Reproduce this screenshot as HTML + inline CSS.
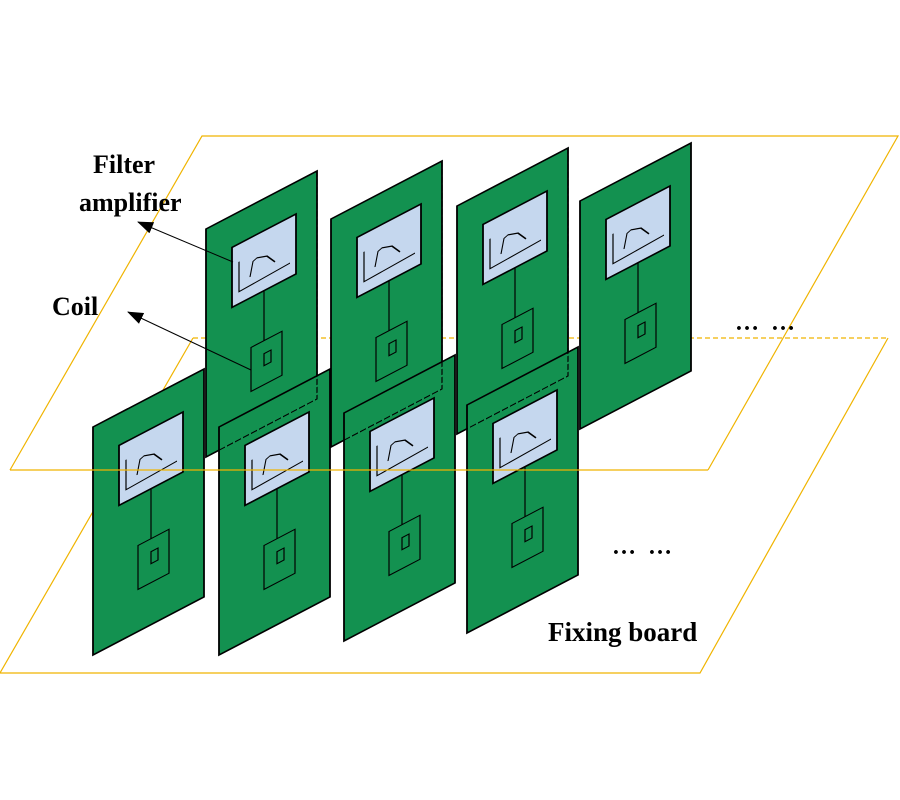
<!DOCTYPE html>
<html><head><meta charset="utf-8"><style>
html,body{margin:0;padding:0;background:#fff;}
svg{display:block;}
text{font-family:"Liberation Serif",serif;font-weight:bold;fill:#000;}
</style></head><body>
<svg width="900" height="800" viewBox="0 0 900 800" xmlns="http://www.w3.org/2000/svg">
<defs>
<g id="content">
  <polygon points="0,0 111,0 111,228 0,228" fill="#139150" stroke="#000" stroke-width="1.8"/>
  <rect x="26" y="32" width="64" height="60" fill="#c5d7ee" stroke="#000" stroke-width="1.8"/>
  <polyline points="33,50 33,80 84,78" fill="none" stroke="#000" stroke-width="1.2"/>
  <polyline points="44,71 47,57 51,55.5 61,59 69,69" fill="none" stroke="#000" stroke-width="1.2"/>
  <line x1="58" y1="92" x2="58" y2="142" stroke="#000" stroke-width="1.2"/>
  <rect x="45" y="142" width="31" height="44" fill="none" stroke="#000" stroke-width="1.2"/>
  <rect x="58" y="155" width="7" height="12" fill="none" stroke="#000" stroke-width="1.2"/>
</g>
<marker id="ah" markerWidth="16" markerHeight="12" refX="15" refY="6" orient="auto" markerUnits="userSpaceOnUse">
  <polygon points="0,0 16,6 0,12" fill="#000"/>
</marker>
</defs>

<line x1="193" y1="338" x2="888" y2="338" stroke="#f0b400" stroke-width="1.2" stroke-dasharray="5 3"/>
<polyline points="10,470 202,136 898,136 708,470" fill="none" stroke="#f0b400" stroke-width="1.2"/>
<polyline points="193,338 0,673 700,673 888,338" fill="none" stroke="#f0b400" stroke-width="1.2"/>

<g transform="translate(206,229) skewY(-27.6)"><use href="#content"/></g>
<g transform="translate(331,219) skewY(-27.6)"><use href="#content"/></g>
<g transform="translate(457,206) skewY(-27.6)"><use href="#content"/></g>
<g transform="translate(580,201) skewY(-27.6)"><use href="#content"/></g>

<g transform="translate(93,427) skewY(-27.6)"><use href="#content"/></g>
<g transform="translate(219,427) skewY(-27.6)"><use href="#content"/></g>
<g transform="translate(344,413) skewY(-27.6)"><use href="#content"/></g>
<g transform="translate(467,405) skewY(-27.6)"><use href="#content"/></g>

<g fill="none" stroke="#000" stroke-width="1.2" stroke-dasharray="6 2">
  <polyline transform="translate(206,229) skewY(-27.6)" points="111,0 111,228 0,228"/>
  <polyline transform="translate(331,219) skewY(-27.6)" points="111,0 111,228 0,228"/>
  <polyline transform="translate(457,206) skewY(-27.6)" points="111,0 111,228 0,228"/>
</g>

<line x1="10" y1="470" x2="708" y2="470" stroke="#f0b400" stroke-width="1.2"/>

<line x1="233" y1="262" x2="138" y2="222" stroke="#000" stroke-width="1" marker-end="url(#ah)"/>
<line x1="251" y1="370" x2="128" y2="312" stroke="#000" stroke-width="1" marker-end="url(#ah)"/>

<text x="93" y="173" font-size="26">Filter</text>
<text x="79" y="211" font-size="26">amplifier</text>
<text x="52" y="315" font-size="26">Coil</text>
<text x="735" y="330" font-size="24" letter-spacing="3">… …</text>
<text x="612" y="554" font-size="24" letter-spacing="3">… …</text>
<text x="548" y="641" font-size="27">Fixing board</text>
</svg>
</body></html>
